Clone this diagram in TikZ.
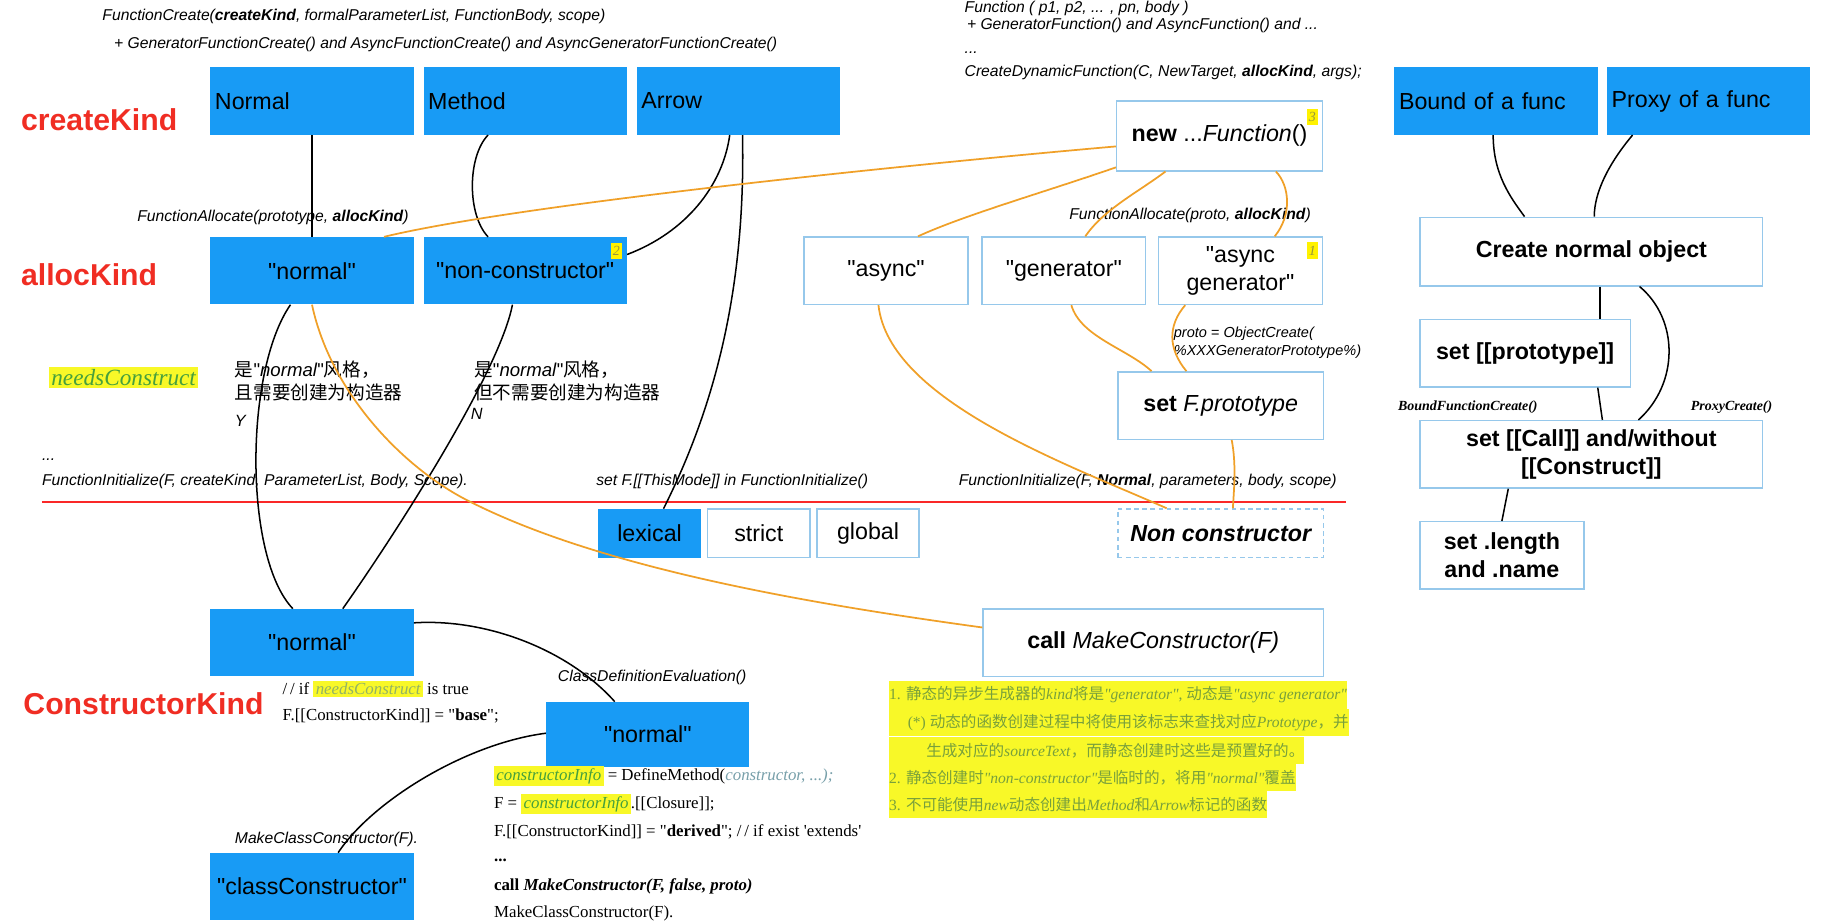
\documentclass[tikz,border=0pt]{standalone}
\usepackage{fontspec}
\newfontfamily\sansx{Liberation Sans}
\newfontfamily\serifx{Liberation Serif}
\newfontfamily\cjk{Noto Sans CJK SC}
\usetikzlibrary{positioning}
\usepackage{xcolor}

\definecolor{kindblue}{RGB}{24,155,245}
\definecolor{boxedge}{RGB}{150,200,235}
\definecolor{flowor}{RGB}{240,160,40}
\definecolor{kindred}{RGB}{240,45,35}
\definecolor{sepred}{RGB}{250,40,40}
\definecolor{noteyellow}{RGB}{248,248,40}
\definecolor{notegreen}{RGB}{120,160,60}
\definecolor{needgreen}{RGB}{70,160,60}
\definecolor{infoteal}{RGB}{120,160,170}
\definecolor{badgeolive}{RGB}{150,150,60}

\newcommand\zh[1]{{\cjk #1}}
\newcommand\hlword[2][needgreen]{{\setlength{\fboxsep}{2pt}\colorbox{noteyellow}{\textcolor{#1}{\itshape #2}}}}

\tikzset{
    kindbox/.style={fill=kindblue, minimum width=175pt, minimum height=58pt, inner sep=0pt, align=center, font=\fontsize{20}{24}\selectfont},
    leftkind/.style={kindbox, text width=167pt, align=left},
    stepnode/.style={draw=boxedge, line width=1.2pt, fill=white, minimum height=58pt, inner sep=0pt, align=center, font=\fontsize{20}{24}\selectfont},
    boldstep/.style={stepnode, font=\bfseries\fontsize{20}{24}\selectfont},
    kindlabel/.style={text=kindred, anchor=west, inner sep=0pt, font=\bfseries\fontsize{26}{30}\selectfont},
    codelabel/.style={anchor=west, inner sep=0pt, font=\itshape\fontsize{13.5}{16}\selectfont},
    zhlabel/.style={anchor=west, inner sep=0pt, font=\fontsize{16}{20}\selectfont},
    serifline/.style={anchor=west, inner sep=0pt, font=\serifx\fontsize{14.5}{17}\selectfont},
    noteline/.style={fill=noteyellow, text=notegreen, anchor=west, inner sep=0pt, minimum height=23.5pt, font=\serifx\fontsize{13.4}{17}\selectfont},
    badge/.style={fill=yellow, text=badgeolive, anchor=north east, inner sep=0pt, minimum width=10pt, minimum height=14pt, font=\serifx\itshape\fontsize{12}{12}\selectfont},
    link/.style={line width=1.3pt},
    flow/.style={draw=flowor, line width=1.5pt}
}

\begin{document}
\sansx
\begin{tikzpicture}[x=1pt, y=-1pt]
            \useasboundingbox[fill=white] (0,0) rectangle (1568,795);

            \node[codelabel] (fcreate) at (88,14) {FunctionCreate(\textbf{createKind}, formalParameterList, FunctionBody, scope)};
            \node[codelabel] (fcreatex) at (98,38) {+ GeneratorFunctionCreate() and AsyncFunctionCreate() and AsyncGeneratorFunctionCreate()};
            \node[codelabel] (dynfunc) at (830,7) {Function ( p1, p2, ... , pn, body )};
            \node[codelabel] (dynfuncx) at (832,22) {+ GeneratorFunction() and AsyncFunction() and ...};
            \node[codelabel] (dyndots) at (830,45) {...};
            \node[codelabel] (dyncreate) at (830,62) {CreateDynamicFunction(C, NewTarget, \textbf{allocKind}, args);};

            \node[kindlabel] (lblcreate) at (18,103) {createKind};
            \node[kindlabel] (lblalloc) at (18,236) {allocKind};
            \node[kindlabel] (lblcons) at (20,606) {ConstructorKind};

            \node[leftkind] (ckNormal) at (268.5,87) {Normal};
            \node[leftkind] (ckMethod) at (452,87) {Method};
            \node[leftkind] (ckArrow) at (635.5,87) {Arrow};
            \node[leftkind] (bound) at (1287.5,87) {Bound of a func};
            \node[leftkind] (proxy) at (1470.5,87) {Proxy of a func};

            \node[codelabel] (falloc) at (118,187) {FunctionAllocate(prototype, \textbf{allocKind})};
            \node[codelabel] (fallocx) at (920,185) {FunctionAllocate(proto, \textbf{allocKind})};

            \node[kindbox] (akNormal) at (268.5,233) {"normal"};
            \node[kindbox] (akNonCons) at (452,233) {"non-constructor"};
            \node[stepnode, minimum width=141pt] (akAsync) at (762.5,233) {"async"};
            \node[stepnode, minimum width=141pt] (akGen) at (915.5,233) {"generator"};
            \node[stepnode, minimum width=141pt] (akAsyncGen) at (1067.5,233) {"async\\generator"};
            \node[stepnode, minimum width=177pt, minimum height=60pt] (newFunc) at (1049.5,117) {\textbf{new} ...\textit{Function}()};

            \node[badge] (badge2) at ([xshift=-4pt,yshift=-5pt]akNonCons.north east) {2};
            \node[badge] (badge1) at ([xshift=-4pt,yshift=-5pt]akAsyncGen.north east) {1};
            \node[badge] (badge3) at ([xshift=-4pt,yshift=-7pt]newFunc.north east) {3};

            \node[boldstep, minimum width=295pt, minimum height=59pt] (createObj) at (1369.5,216.5) {Create normal object};
            \node[boldstep, minimum width=181pt] (setProto) at (1312.5,304) {set [[prototype]]};
            \node[boldstep, minimum width=295pt] (setCall) at (1369.5,391) {set [[Call]] and/without\\{}[[Construct]]};
            \node[boldstep, minimum width=141pt] (setLen) at (1292.5,478) {set .length\\and .name};
            \node[anchor=west, inner sep=0pt, font=\serifx\bfseries\itshape\fontsize{12}{12}\selectfont] (boundcreate) at (1203,350) {BoundFunctionCreate()};
            \node[anchor=west, inner sep=0pt, font=\serifx\bfseries\itshape\fontsize{12}{12}\selectfont] (proxycreate) at (1455,350) {ProxyCreate()};

            \node[anchor=west, fill=noteyellow, text=needgreen, inner sep=2pt, font=\serifx\itshape\fontsize{20}{24}\selectfont] (needs) at (42,325) {needsConstruct};
            \node[zhlabel] (yesa) at (202,318) {\zh{是}"\textit{normal}"\zh{风格，}};
            \node[zhlabel] (yesb) at (202,338) {\zh{且需要创建为构造器}};
            \node[zhlabel, font=\itshape\fontsize{14}{16}\selectfont] (yesc) at (202,362) {Y};
            \node[zhlabel] (noa) at (408,318) {\zh{是}"\textit{normal}"\zh{风格，}};
            \node[zhlabel] (nob) at (408,338) {\zh{但不需要创建为构造器}};
            \node[zhlabel, font=\itshape\fontsize{14}{16}\selectfont] (noc) at (405,356) {N};

            \node[stepnode, minimum width=177pt] (setFProto) at (1050.5,349) {\textbf{set} \textit{F.prototype}};
            \node[codelabel, font=\itshape\fontsize{12.5}{15}\selectfont] (objcreate) at (1010,287) {proto = ObjectCreate(};
            \node[codelabel, font=\itshape\fontsize{12.5}{15}\selectfont] (objcreatex) at (1010,303) {\%XXXGeneratorPrototype\%)};

            \node[codelabel] (initdots) at (36,396) {...};
            \node[codelabel] (finit) at (36,414) {FunctionInitialize(F, createKind, ParameterList, Body, Scope).};
            \node[codelabel] (thismode) at (513,414) {set F.[[ThisMode]] in FunctionInitialize()};
            \node[codelabel] (finitx) at (825,414) {FunctionInitialize(F, \textbf{Normal}, parameters, body, scope)};
            \coordinate (sepL) at (36,432);
            \coordinate (sepR) at (1158,432);
            \draw[sepred, line width=1.5pt] (sepL) -- (sepR);

            \node[kindbox, minimum width=88pt, minimum height=42pt] (lexical) at (559,459) {lexical};
            \node[stepnode, minimum width=88pt, minimum height=42pt] (strict) at (653,459) {strict};
            \node[stepnode, minimum width=88pt, minimum height=42pt] (global) at (747,459) {global};
            \node[stepnode, dash pattern=on 4pt off 3pt, minimum width=177pt, minimum height=42pt, font=\bfseries\itshape\fontsize{20}{24}\selectfont] (nonCons) at (1050.5,459) {Non constructor};

            \node[kindbox] (cnNormal) at (268.5,553) {"normal"};
            \node[serifline] (ifneeds) at (243,593) {/\,/ if \hlword[notegreen!80]{needsConstruct} is true};
            \node[serifline] (basekind) at (243,616) {F.[[ConstructorKind]] = "\textbf{base}";};
            \node[codelabel] (classdef) at (480,583) {ClassDefinitionEvaluation()};
            \node[kindbox, minimum height=56pt] (cnNormal2) at (557.5,632) {"normal"};
            \node[serifline] (defmethod) at (425,668) {\hlword{constructorInfo} = DefineMethod(\textcolor{infoteal}{\itshape constructor, ...);}};
            \node[serifline] (closure) at (425,692) {F = \hlword{constructorInfo}.[[Closure]];};
            \node[serifline] (derived) at (425,716) {F.[[ConstructorKind]] = "\textbf{derived}"; /\,/ if exist 'extends'};
            \node[serifline] (codedots) at (425,740) {\textbf{...}};
            \node[serifline] (callmakex) at (425,763) {\textbf{call \textit{MakeConstructor(F, false, proto)}}};
            \node[serifline] (makeclass) at (425,786) {MakeClassConstructor(F).};
            \node[codelabel] (makeclassx) at (202,722) {MakeClassConstructor(F).};
            \node[kindbox] (classCons) at (268.5,763) {"classConstructor"};

            \node[stepnode, minimum width=293pt] (callMake) at (992.5,553) {\textbf{call} \textit{MakeConstructor(F)}};
            \node[noteline] (note1) at (765,598) {1. \zh{静态的异步生成器的}\textit{kind}\zh{将是}\textit{"generator"}, \zh{动态是}\textit{"async generator"}};
            \node[noteline] (note2) at (765,622) {\hspace*{16pt}(*) \zh{动态的函数创建过程中将使用该标志来查找对应}\textit{Prototype}\zh{，并}};
            \node[noteline] (note3) at (765,646) {\hspace*{32pt}\zh{生成对应的}\textit{sourceText}\zh{，而静态创建时这些是预置好的。}};
            \node[noteline] (note4) at (765,669) {2. \zh{静态创建时}\textit{"non-constructor"}\zh{是临时的，将用}\textit{"normal"}\zh{覆盖}};
            \node[noteline] (note5) at (765,692) {3. \zh{不可能使用}\textit{new}\zh{动态创建出}\textit{Method}\zh{和}\textit{Arrow}\zh{标记的函数}};

            \draw[link] (ckNormal.south) -- (akNormal.north);
            \draw[link] ([xshift=-32pt]ckMethod.south) .. controls (402,135) and (402,185) .. ([xshift=-32pt]akNonCons.north);
            \draw[link] ([xshift=-7.5pt]ckArrow.south) .. controls (622,160) and (590,200) .. ([yshift=14pt]akNonCons.east);
            \draw[link] ([xshift=3.5pt]ckArrow.south) .. controls (642,260) and (610,360) .. ([xshift=12pt]lexical.north);
            \draw[link] ([xshift=-18.5pt]akNormal.south) .. controls (210,320) and (210,480) .. ([xshift=-16.5pt]cnNormal.north);
            \draw[link] ([xshift=-11pt]akNonCons.south) .. controls (430,320) and (340,460) .. ([xshift=26.5pt]cnNormal.north);
            \draw[link] ([yshift=17pt]cnNormal.east) .. controls (420,532) and (490,560) .. ([xshift=-28.5pt]cnNormal2.north);
            \draw[link] ([yshift=1pt]cnNormal2.west) .. controls (400,640) and (320,690) .. ([xshift=22.5pt]classCons.north);

            \draw[link] ([xshift=-2.5pt]bound.south) .. controls (1285,150) and (1300,170) .. ([xshift=-57.5pt]createObj.north);
            \draw[link] ([xshift=-65.5pt]proxy.south) .. controls (1385,140) and (1372,165) .. ([xshift=2.5pt]createObj.north);
            \draw[link] ([xshift=7.5pt]createObj.south) -- ([xshift=64.5pt]setProto.north);
            \draw[link] ([xshift=41.5pt]createObj.south) .. controls (1445,275) and (1445,330) .. ([xshift=40.5pt]setCall.north);
            \draw[link] ([xshift=62.5pt]setProto.south) -- ([xshift=9.5pt]setCall.north);
            \draw[link] ([xshift=-71.5pt]setCall.south) -- (setLen.north);

            \draw[flow] ([yshift=-9pt]newFunc.west) .. controls (800,140) and (450,175) .. ([xshift=62pt]akNormal.north);
            \draw[flow] ([yshift=-27pt]newFunc.west) .. controls (900,165) and (830,185) .. ([xshift=27.5pt]akAsync.north);
            \draw[flow] ([xshift=-46.5pt]newFunc.south) .. controls (980,165) and (950,180) .. ([xshift=18.5pt]akGen.north);
            \draw[flow] ([xshift=48.5pt]newFunc.south) .. controls (1110,160) and (1112,185) .. ([xshift=29.5pt]akAsyncGen.north);
            \draw[flow] ([xshift=-6.5pt]akAsync.south) .. controls (765,345) and (920,400) .. ([xshift=-46.5pt]nonCons.north);
            \draw[flow] ([xshift=6.5pt]akGen.south) .. controls (930,290) and (970,300) .. ([xshift=-59.5pt]setFProto.north);
            \draw[flow] ([xshift=-47.5pt]akAsyncGen.south) .. controls (1005,280) and (1005,300) .. ([xshift=-29.5pt]setFProto.north);
            \draw[flow] ([xshift=9.5pt]setFProto.south) .. controls (1064,400) and (1062,420) .. ([xshift=10.5pt]nonCons.north);
            \draw[flow] (akNormal.south) .. controls (285,340) and (350,405) .. (405,432) .. controls (520,490) and (700,520) .. ([yshift=13pt]callMake.west);
        \end{tikzpicture}
\end{document}
